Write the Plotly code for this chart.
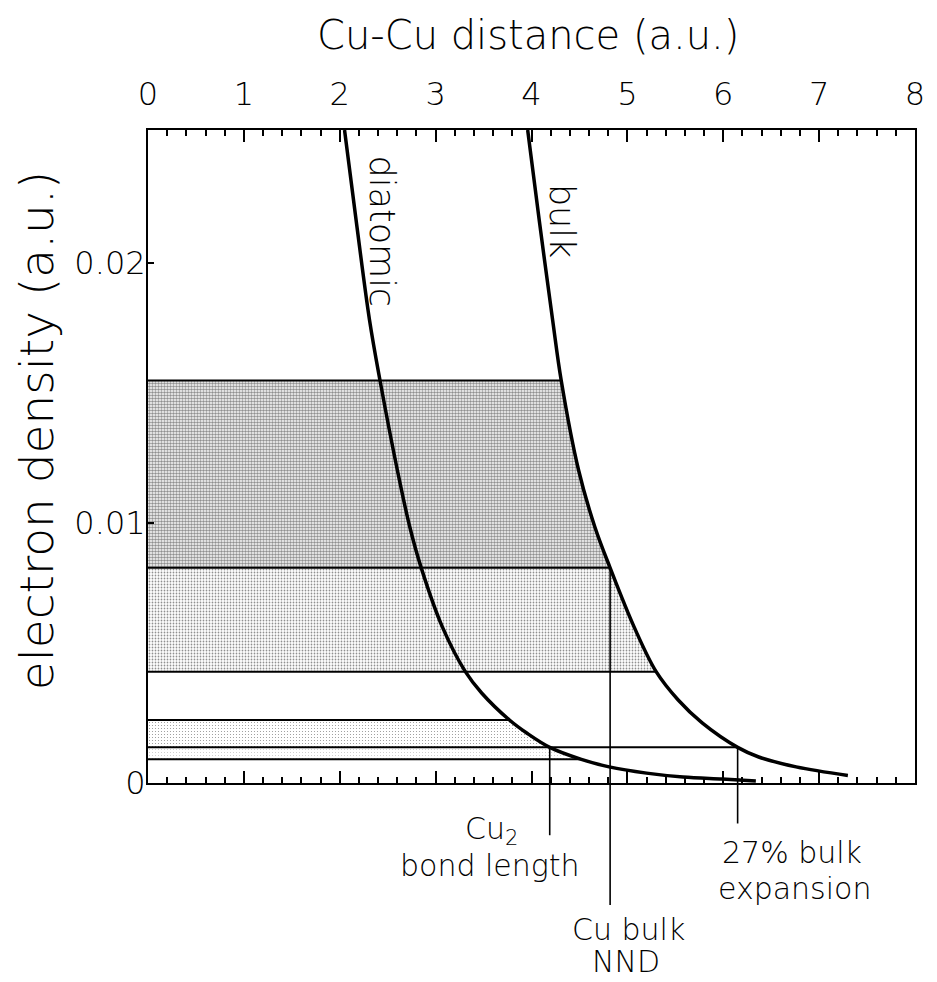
import numpy as np
import plotly.graph_objects as go

# Electron density along the Cu-Cu separation (atomic units)
dia_x = [2.05, 2.17, 2.31, 2.42, 2.60, 2.73, 2.85, 3.07, 3.31, 3.48, 3.77, 3.95,
         4.19, 4.52, 4.81, 5.20, 5.58, 5.99, 6.34]
dia_y = [0.0251, 0.02165, 0.01781, 0.01547, 0.01204, 0.00985, 0.00827, 0.0060,
         0.00428, 0.00346, 0.00242, 0.00192, 0.00137, 0.00091, 0.00062, 0.00038,
         0.00023, 0.00015, 0.00008]

bulk_x = [3.96, 4.08, 4.22, 4.31, 4.49, 4.66, 4.82, 5.07, 5.30, 5.53, 5.78, 6.15,
          6.37, 6.76, 7.30]
bulk_y = [0.0251, 0.02165, 0.01781, 0.01547, 0.01204, 0.00985, 0.00827, 0.0060,
          0.00428, 0.00319, 0.00231, 0.00137, 0.00100, 0.00062, 0.00029]

# Density levels drawn as horizontal lines and the curve each one runs to
levels = [0.01547, 0.00827, 0.00428, 0.00242, 0.00137, 0.00091]
level_curve = ["bulk", "bulk", "bulk", "diatomic", "bulk", "diatomic"]

# Shaded bands: (low level, high level, bounding curve, shade)
bands = [
    (0.00827, 0.01547, "bulk", 0.55),
    (0.00428, 0.00827, "bulk", 0.28),
    (0.00137, 0.00242, "diatomic", 0.12),
    (0.00091, 0.00137, "diatomic", 0.05),
]

# Marked distances: (label lines, curve, density level, tail end in paper units,
# label positions in paper units)
markers = [
    (["Cu<sub>2</sub>", "bond length"], "diatomic", 0.00137, -0.080,
     [(0.448, -0.072), (0.446, -0.127)]),
    (["Cu bulk", "NND"], "bulk", 0.00827, -0.187,
     [(0.626, -0.225), (0.6235, -0.274)]),
    (["27% bulk", "expansion"], "bulk", 0.00137, -0.062,
     [(0.8396, -0.107), (0.8435, -0.162)]),
]

x_ticks = list(range(0, 9))
y_ticks = [0, 0.01, 0.02]
y_tick_text = ["0", "0.01", "0.02"]
Y_MAX = 0.0251

curves = {
    "diatomic": (np.array(dia_x), np.array(dia_y)),
    "bulk": (np.array(bulk_x), np.array(bulk_y)),
}


def crossing(name, level):
    cx, cy = curves[name]
    return float(np.interp(level, cy[::-1], cx[::-1]))


FONT = "DejaVu Sans"
W = 300


def tfont(size):
    return dict(family=FONT, size=size, color="black", weight=W)


fig = go.Figure()

# stippled bands bounded on the right by a curve
for lo, hi, name, solid in bands:
    cx, cy = curves[name]
    m = (cy <= hi + 1e-9) & (cy >= lo - 1e-9)
    px = [0.0] + list(cx[m]) + [0.0, 0.0]
    py = [hi] + list(cy[m]) + [lo, hi]
    fig.add_trace(go.Scatter(
        x=px, y=py, mode="lines", fill="toself", line=dict(width=0),
        fillcolor="rgba(255,255,255,0)",
        fillpattern=dict(shape=".", fgcolor="#222222", bgcolor="white",
                         size=3, solidity=solid),
        hoverinfo="skip", showlegend=False))

# horizontal level lines
for lev, name in zip(levels, level_curve):
    fig.add_trace(go.Scatter(
        x=[0, crossing(name, lev)], y=[lev, lev], mode="lines",
        line=dict(color="black", width=2), showlegend=False, hoverinfo="skip"))

# density curves
for name in ["diatomic", "bulk"]:
    cx, cy = curves[name]
    fig.add_trace(go.Scatter(
        x=cx, y=cy, mode="lines",
        line=dict(color="black", width=3.5, shape="spline", smoothing=1.0),
        name=name, showlegend=False))

# vertical drop lines and their labels
annotations = []
shapes = []
for texts, name, lev, tail, pos in markers:
    xv = crossing(name, lev)
    fig.add_trace(go.Scatter(
        x=[xv, xv], y=[0, lev], mode="lines",
        line=dict(color="black", width=1.6), showlegend=False, hoverinfo="skip"))
    shapes.append(dict(type="line", xref="x", yref="paper", x0=xv, x1=xv,
                       y0=0, y1=tail, line=dict(color="black", width=1.6)))
    for t, (ax_, ay_) in zip(texts, pos):
        annotations.append(dict(text=t, xref="paper", yref="paper", x=ax_, y=ay_,
                                xanchor="center", yanchor="middle", showarrow=False,
                                font=tfont(30)))

# curve labels
annotations.append(dict(text="diatomic", x=2.44, y=0.0212, xref="x", yref="y",
                        textangle=90, showarrow=False, font=tfont(35)))
annotations.append(dict(text="bulk", x=4.32, y=0.0216, xref="x", yref="y",
                        textangle=90, showarrow=False, font=tfont(35)))

# axis titles
annotations.append(dict(text="Cu-Cu distance (a.u.)", xref="paper", yref="paper",
                        x=0.4955, y=1.146, xanchor="center", yanchor="middle",
                        showarrow=False, font=tfont(40)))
annotations.append(dict(text="electron density (a.u.)", xref="paper", yref="paper",
                        x=-0.145, y=0.54, xanchor="center", yanchor="middle",
                        textangle=-90, showarrow=False, font=tfont(47)))

fig.update_layout(
    width=937, height=982,
    margin=dict(l=148, r=16, t=130, b=199),
    plot_bgcolor="white", paper_bgcolor="white",
    annotations=annotations, shapes=shapes,
    xaxis=dict(range=[0, 8], side="top", tickvals=x_ticks, ticks="inside",
               ticklen=12, tickwidth=2, tickcolor="black",
               minor=dict(dtick=0.2, ticks="inside", ticklen=6, tickwidth=1.5,
                          tickcolor="black"),
               showline=True, linewidth=2, linecolor="black", mirror="ticks",
               showgrid=False, zeroline=False, ticklabelstandoff=10,
               tickfont=tfont(32)),
    yaxis=dict(range=[0, Y_MAX], tickvals=y_ticks, ticktext=y_tick_text,
               ticks="inside", ticklen=6, tickwidth=2, tickcolor="black",
               showline=True, linewidth=2, linecolor="black", mirror=True,
               showgrid=False, zeroline=False, ticklabelstandoff=-6,
               tickfont=tfont(32)),
)

fig.write_html("out.html")
